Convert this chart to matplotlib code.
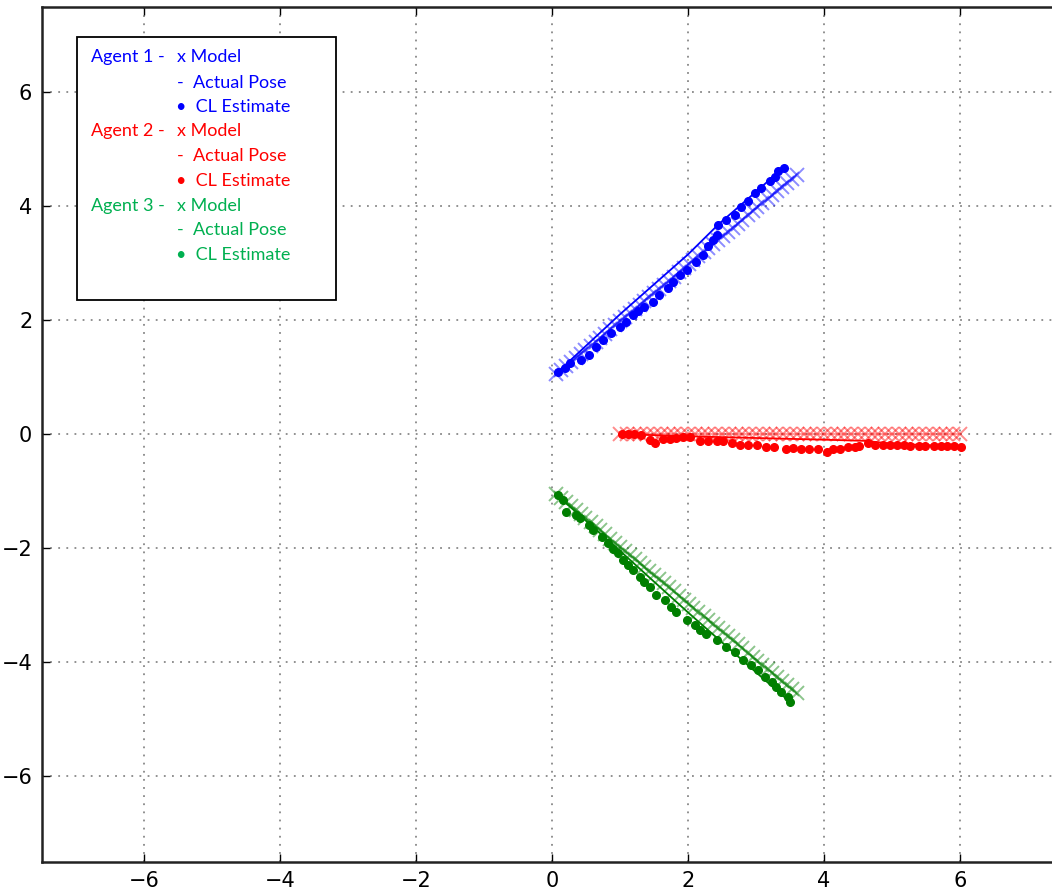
import numpy as np
import matplotlib
matplotlib.use('Agg')
import matplotlib.pyplot as plt
from matplotlib.patches import Rectangle

plt.rcParams.update({'font.size': 13, 'font.family': 'DejaVu Sans'})

#%% data

# Agent 1 (blue)
model1_x = [0.06, 0.13, 0.20, 0.28, 0.35, 0.42, 0.49, 0.57, 0.64, 0.71, 0.78, 0.85, 0.93, 1.00, 1.07,
            1.14, 1.22, 1.29, 1.36, 1.43, 1.50, 1.58, 1.65, 1.72, 1.79, 1.87, 1.94, 2.01, 2.08, 2.15,
            2.23, 2.30, 2.37, 2.44, 2.52, 2.59, 2.66, 2.73, 2.80, 2.88, 2.95, 3.02, 3.09, 3.17, 3.24,
            3.31, 3.38, 3.45, 3.53, 3.60]
model1_y = [1.05, 1.12, 1.19, 1.26, 1.34, 1.41, 1.48, 1.55, 1.62, 1.69, 1.76, 1.84, 1.91, 1.98, 2.05,
            2.12, 2.19, 2.26, 2.34, 2.41, 2.48, 2.55, 2.62, 2.69, 2.76, 2.84, 2.91, 2.98, 3.05, 3.12,
            3.19, 3.26, 3.34, 3.41, 3.48, 3.55, 3.62, 3.69, 3.76, 3.84, 3.91, 3.98, 4.05, 4.12, 4.19,
            4.26, 4.34, 4.41, 4.48, 4.55]
pose1_x = [0.05, 1.00, 2.00, 2.45, 3.00, 3.40]
pose1_y = [1.05, 2.10, 3.15, 3.68, 4.25, 4.67]
est1_x = [0.09, 0.19, 0.26, 0.42, 0.55, 0.65, 0.75, 0.87, 1.00, 1.09, 1.19, 1.26, 1.36, 1.49, 1.58,
          1.71, 1.78, 1.88, 1.98, 2.12, 2.22, 2.29, 2.37, 2.42, 2.44, 2.56, 2.69, 2.78, 2.88, 2.98,
          3.08, 3.20, 3.28, 3.32, 3.41]
est1_y = [1.08, 1.15, 1.24, 1.30, 1.39, 1.53, 1.65, 1.77, 1.88, 1.97, 2.09, 2.15, 2.23, 2.32, 2.44,
          2.56, 2.67, 2.79, 2.88, 3.02, 3.14, 3.29, 3.40, 3.49, 3.67, 3.75, 3.84, 3.99, 4.08, 4.22,
          4.31, 4.43, 4.51, 4.62, 4.66]

# Agent 2 (red)
model2_x = [1.0, 1.1, 1.2, 1.3, 1.4, 1.5, 1.6, 1.7, 1.8, 1.9, 2.0, 2.1, 2.2, 2.3, 2.4, 2.5, 2.6,
            2.7, 2.8, 2.9, 3.0, 3.1, 3.2, 3.3, 3.4, 3.5, 3.6, 3.7, 3.8, 3.9, 4.0, 4.1, 4.2, 4.3,
            4.4, 4.5, 4.6, 4.7, 4.8, 4.9, 5.0, 5.1, 5.2, 5.3, 5.4, 5.5, 5.6, 5.7, 5.8, 5.9, 6.0]
model2_y = [0.0, 0.0, 0.0, 0.0, 0.0, 0.0, 0.0, 0.0, 0.0, 0.0, 0.0, 0.0, 0.0, 0.0, 0.0, 0.0, 0.0,
            0.0, 0.0, 0.0, 0.0, 0.0, 0.0, 0.0, 0.0, 0.0, 0.0, 0.0, 0.0, 0.0, 0.0, 0.0, 0.0, 0.0,
            0.0, 0.0, 0.0, 0.0, 0.0, 0.0, 0.0, 0.0, 0.0, 0.0, 0.0, 0.0, 0.0, 0.0, 0.0, 0.0, 0.0]
pose2_x = [1.0, 2.0, 3.0, 4.0, 4.6, 5.0, 6.05]
pose2_y = [0.0, -0.04, -0.07, -0.10, -0.12, -0.17, -0.22]
est2_x = [1.03, 1.12, 1.21, 1.31, 1.44, 1.52, 1.63, 1.73, 1.83, 1.93, 2.03, 2.17, 2.29, 2.42, 2.52,
          2.64, 2.76, 2.88, 3.01, 3.15, 3.27, 3.44, 3.54, 3.66, 3.78, 3.91, 4.04, 4.13, 4.23, 4.35,
          4.45, 4.52, 4.65, 4.75, 4.87, 4.97, 5.07, 5.17, 5.27, 5.39, 5.49, 5.62, 5.72, 5.81, 5.91,
          6.02]
est2_y = [0.0, 0.0, 0.0, -0.01, -0.10, -0.15, -0.09, -0.09, -0.07, -0.05, -0.05, -0.12, -0.12, -0.12,
          -0.13, -0.15, -0.19, -0.19, -0.19, -0.22, -0.23, -0.26, -0.25, -0.26, -0.27, -0.27, -0.31,
          -0.26, -0.26, -0.23, -0.22, -0.21, -0.15, -0.20, -0.20, -0.20, -0.20, -0.20, -0.21, -0.21,
          -0.21, -0.21, -0.21, -0.21, -0.21, -0.23]

# Agent 3 (green)
model3_x = [0.06, 0.13, 0.20, 0.28, 0.35, 0.42, 0.49, 0.57, 0.64, 0.71, 0.78, 0.85, 0.93, 1.00, 1.07,
            1.14, 1.22, 1.29, 1.36, 1.43, 1.50, 1.58, 1.65, 1.72, 1.79, 1.87, 1.94, 2.01, 2.08, 2.15,
            2.23, 2.30, 2.37, 2.44, 2.52, 2.59, 2.66, 2.73, 2.80, 2.88, 2.95, 3.02, 3.09, 3.17, 3.24,
            3.31, 3.38, 3.45, 3.53, 3.60]
model3_y = [-1.05, -1.12, -1.19, -1.26, -1.34, -1.41, -1.48, -1.55, -1.62, -1.69, -1.76, -1.84, -1.91,
            -1.98, -2.05, -2.12, -2.19, -2.26, -2.34, -2.41, -2.48, -2.55, -2.62, -2.69, -2.76, -2.84,
            -2.91, -2.98, -3.05, -3.12, -3.19, -3.26, -3.34, -3.41, -3.48, -3.55, -3.62, -3.69, -3.76,
            -3.84, -3.91, -3.98, -4.05, -4.12, -4.19, -4.26, -4.34, -4.41, -4.48, -4.55]
pose3_x = [0.05, 1.00, 2.00, 3.00, 3.48]
pose3_y = [-1.05, -2.05, -3.13, -4.18, -4.68]
est3_x = [0.09, 0.16, 0.21, 0.36, 0.41, 0.55, 0.60, 0.73, 0.82, 0.90, 0.97, 1.04, 1.12, 1.19, 1.29,
          1.36, 1.44, 1.53, 1.66, 1.75, 1.83, 1.98, 2.10, 2.17, 2.27, 2.42, 2.56, 2.69, 2.81, 2.93,
          3.03, 3.13, 3.23, 3.30, 3.37, 3.47, 3.50]
est3_y = [-1.07, -1.16, -1.36, -1.42, -1.48, -1.60, -1.68, -1.80, -1.92, -2.01, -2.09, -2.21, -2.30,
          -2.39, -2.50, -2.59, -2.68, -2.82, -2.91, -3.03, -3.12, -3.26, -3.35, -3.44, -3.50, -3.61,
          -3.73, -3.82, -3.96, -4.05, -4.14, -4.26, -4.35, -4.43, -4.52, -4.61, -4.71]

# legend text (agent label, colour)
agent_labels = ['Agent 1 -', 'Agent 2 -', 'Agent 3 -']
item_labels = ['x Model', '-  Actual Pose', '\u2022  CL Estimate']
text_colors = ['#0000ff', '#ff0000', '#00b050']

#%% plotting

fig = plt.figure(figsize=(10.52, 8.9), dpi=100)
ax = fig.add_axes([42 / 1052, 28.5 / 890, 1020 / 1052, 855 / 890])

agents = [
    (model1_x, model1_y, pose1_x, pose1_y, est1_x, est1_y, '#0000ff'),
    (model2_x, model2_y, pose2_x, pose2_y, est2_x, est2_y, '#ff0000'),
    (model3_x, model3_y, pose3_x, pose3_y, est3_x, est3_y, '#007f00'),
]
for mx, my, px, py, ex, ey, c in agents:
    ax.plot(mx, my, 'x-', color=c, alpha=0.45, ms=10, mew=1.4, lw=1.2)
    ax.plot(px, py, '-', color=c, lw=1.3)
    ax.plot(ex, ey, 'o', color=c, ms=5.5, mec=c)

ax.set_xlim(-7.5, 7.5)
ax.set_ylim(-7.5, 7.5)
ax.set_xticks([-6, -4, -2, 0, 2, 4, 6])
ax.set_yticks([-6, -4, -2, 0, 2, 4, 6])
ax.grid(True, color='#888888', linestyle=(0, (1, 3.5)), lw=1.3)
ax.tick_params(direction='in', length=6, width=1, top=True, right=True, labelsize=15, pad=7)
for s in ax.spines.values():
    s.set_linewidth(1.8)
    s.set_color('#222222')

# hand-made legend box
fig.patches.append(Rectangle((77 / 1052, 1 - 300 / 890), 259 / 1052, 263 / 890,
                             transform=fig.transFigure, fill=True, facecolor='white',
                             edgecolor='black', lw=1.3, zorder=5))
rows = [56.7, 82.7, 106.7, 131, 156, 180.7, 205.7, 230, 255]
for i, (lab, c) in enumerate(zip(agent_labels, text_colors)):
    fig.text(91 / 1052, 1 - rows[3 * i] / 890, lab, color=c, family='Lato', fontsize=13,
             va='center', zorder=6)
    for j, it in enumerate(item_labels):
        x0 = 177 if j != 2 else 176
        fig.text(x0 / 1052, 1 - rows[3 * i + j] / 890, it, color=c, family='Lato',
                 fontsize=13, va='center', zorder=6)

fig.savefig('out.png', dpi=100)
